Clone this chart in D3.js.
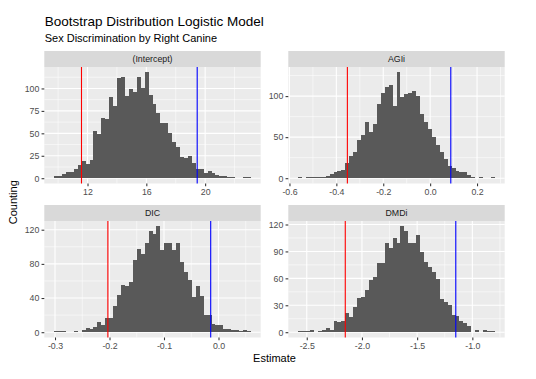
<!DOCTYPE html>
<html>
<head>
<meta charset="utf-8">
<script src="https://cdn.jsdelivr.net/npm/d3@7"></script>
<style>
    body { margin: 0; background: #fff; }
    svg { display: block; font-family: "Liberation Sans", Arial, Helvetica, sans-serif; }
</style>
</head>
<body>
<div id="chart"></div>
<script>
// facet labels, in drawing order
const panelNames = ["(Intercept)", "AGIi", "DIC", "DMDi"];

// bootstrap counts, 50 bins for every coefficient
const interceptCounts = [2, 2, 5, 7, 7, 10, 15, 19, 16, 20, 53, 49, 67, 66, 90, 80, 112, 113, 92, 99,
    96, 113, 100, 118, 93, 83, 73, 62, 62, 50, 40, 35, 24, 22, 25, 17, 10, 10, 6, 8,
    6, 4, 3, 3, 1, 1, 0, 0, 1, 1];
const agiiCounts = [1, 0, 1, 1, 1, 1, 2, 3, 5, 8, 9, 10, 18, 27, 32, 47, 53, 68, 56, 66,
    90, 104, 111, 113, 88, 129, 99, 102, 104, 106, 100, 78, 68, 60, 50, 41, 32, 23, 15, 12,
    9, 8, 7, 4, 1, 0, 1, 0, 0, 2];
const dicCounts = [1, 1, 1, 0, 0, 1, 0, 2, 5, 4, 6, 12, 8, 17, 17, 31, 44, 55, 54, 59,
    85, 98, 91, 104, 119, 115, 124, 96, 104, 105, 96, 105, 82, 71, 61, 41, 54, 42, 20, 20,
    10, 9, 8, 4, 4, 2, 2, 1, 2, 1];
const dmdiCounts = [1, 1, 1, 2, 0, 1, 2, 5, 2, 13, 11, 13, 21, 17, 28, 38, 39, 47, 58, 61,
    77, 77, 99, 94, 105, 99, 118, 113, 99, 99, 108, 89, 78, 73, 67, 59, 37, 34, 30, 19,
    18, 13, 10, 7, 0, 3, 0, 3, 1, 1];

// left edge of the first bin, right edge of the last bin
const interceptRange = [9.73, 23.11];
const agiiRange = [-0.563, 0.276];
const dicRange = [-0.3016, 0.0594];
const dmdiRange = [-2.578, -0.796];

// percentile cut offs (red = lower, blue = upper)
const lowerCut = [11.59, -0.353, -0.203, -2.151];
const upperCut = [19.46, 0.088, -0.0143, -1.150];

// axis breaks
const interceptXTicks = [12, 16, 20];
const agiiXTicks = [-0.6, -0.4, -0.2, 0.0, 0.2];
const dicXTicks = [-0.3, -0.2, -0.1, 0.0];
const dmdiXTicks = [-2.5, -2.0, -1.5, -1.0];
const interceptYTicks = [0, 25, 50, 75, 100];
const agiiYTicks = [0, 50, 100];
const dicYTicks = [0, 40, 80, 120];
const dmdiYTicks = [0, 30, 60, 90, 120];

const panels = [
    { name: panelNames[0], counts: interceptCounts, range: interceptRange, xTicks: interceptXTicks, yTicks: interceptYTicks, fmt: d => d3.format("d")(d) },
    { name: panelNames[1], counts: agiiCounts, range: agiiRange, xTicks: agiiXTicks, yTicks: agiiYTicks, fmt: d => d.toFixed(1) },
    { name: panelNames[2], counts: dicCounts, range: dicRange, xTicks: dicXTicks, yTicks: dicYTicks, fmt: d => d.toFixed(1) },
    { name: panelNames[3], counts: dmdiCounts, range: dmdiRange, xTicks: dmdiXTicks, yTicks: dmdiYTicks, fmt: d => d.toFixed(1) }
];

const width = 536, height = 379;
const colX = [[44.3, 260.7], [288.3, 504.7]];
const rowY = [[67, 183.5], [221, 337.5]];
const stripH = 16;

const svg = d3.select("#chart").append("svg")
    .attr("width", width)
    .attr("height", height);

svg.append("rect").attr("width", width).attr("height", height).attr("fill", "#fff");

// midpoints between major breaks, like ggplot's minor grid
function minorBreaks(major, domain) {
    const step = major[1] - major[0];
    const out = [];
    for (let k = -1; k <= major.length + 1; k++) {
        const v = major[0] + step * (k + 0.5);
        if (v >= domain[0] && v <= domain[1]) out.push(v);
    }
    return out;
}

panels.forEach((p, i) => {
    const [left, right] = colX[i % 2];
    const [top, bottom] = rowY[Math.floor(i / 2)];

    const pad = (p.range[1] - p.range[0]) * 0.05;
    const x = d3.scaleLinear().domain([p.range[0] - pad, p.range[1] + pad]).range([left, right]);
    const maxCount = d3.max(p.counts);
    const y = d3.scaleLinear().domain([-0.05 * maxCount, maxCount * 1.05]).range([bottom, top]);

    const g = svg.append("g");

    g.append("rect")
        .attr("x", left).attr("y", top)
        .attr("width", right - left).attr("height", bottom - top)
        .attr("fill", "#EBEBEB");

    // grid
    g.append("g").selectAll("line")
        .data(minorBreaks(p.xTicks, x.domain()))
        .enter().append("line")
        .attr("x1", d => x(d)).attr("x2", d => x(d))
        .attr("y1", top).attr("y2", bottom)
        .attr("stroke", "#fff").attr("stroke-width", 0.55);
    g.append("g").selectAll("line")
        .data(minorBreaks(p.yTicks, y.domain()))
        .enter().append("line")
        .attr("y1", d => y(d)).attr("y2", d => y(d))
        .attr("x1", left).attr("x2", right)
        .attr("stroke", "#fff").attr("stroke-width", 0.55);
    g.append("g").selectAll("line")
        .data(p.xTicks)
        .enter().append("line")
        .attr("x1", d => x(d)).attr("x2", d => x(d))
        .attr("y1", top).attr("y2", bottom)
        .attr("stroke", "#fff").attr("stroke-width", 1.1);
    g.append("g").selectAll("line")
        .data(p.yTicks)
        .enter().append("line")
        .attr("y1", d => y(d)).attr("y2", d => y(d))
        .attr("x1", left).attr("x2", right)
        .attr("stroke", "#fff").attr("stroke-width", 1.1);

    // histogram bars
    const binW = (p.range[1] - p.range[0]) / p.counts.length;
    const bins = p.counts.map((c, k) => ({ x0: p.range[0] + k * binW, x1: p.range[0] + (k + 1) * binW, count: c }));
    g.append("g").selectAll("rect")
        .data(bins.filter(b => b.count > 0))
        .enter().append("rect")
        .attr("x", d => x(d.x0))
        .attr("width", d => x(d.x1) - x(d.x0))
        .attr("y", d => y(d.count))
        .attr("height", d => y(0) - y(d.count))
        .attr("fill", "#595959")
        .attr("shape-rendering", "crispEdges");

    // cut off lines
    g.append("line")
        .attr("x1", x(lowerCut[i])).attr("x2", x(lowerCut[i]))
        .attr("y1", top).attr("y2", bottom)
        .attr("stroke", "red").attr("stroke-width", 1.1);
    g.append("line")
        .attr("x1", x(upperCut[i])).attr("x2", x(upperCut[i]))
        .attr("y1", top).attr("y2", bottom)
        .attr("stroke", "blue").attr("stroke-width", 1.1);

    // strip
    g.append("rect")
        .attr("x", left).attr("y", top - stripH)
        .attr("width", right - left).attr("height", stripH)
        .attr("fill", "#D9D9D9");
    g.append("text")
        .attr("x", (left + right) / 2).attr("y", top - stripH / 2)
        .attr("dy", "0.35em")
        .attr("text-anchor", "middle")
        .attr("font-size", "8.8px")
        .attr("fill", "#1A1A1A")
        .text(p.name);

    // axes
    const xAxis = g.append("g")
        .attr("transform", `translate(0,${bottom})`)
        .call(d3.axisBottom(x).tickValues(p.xTicks).tickSize(2.75).tickPadding(2.2).tickFormat(p.fmt));
    const yAxis = g.append("g")
        .attr("transform", `translate(${left},0)`)
        .call(d3.axisLeft(y).tickValues(p.yTicks).tickSize(2.75).tickPadding(2.2).tickFormat(d => d));
    [xAxis, yAxis].forEach(a => {
        a.select(".domain").remove();
        a.attr("font-family", null).attr("font-size", null);
        a.selectAll(".tick line").attr("stroke", "#333333").attr("stroke-width", 1.07);
        a.selectAll(".tick text").attr("fill", "#4D4D4D").attr("font-size", "8.8px");
    });
});

// titles
svg.append("text")
    .attr("x", 44.7).attr("y", 26.2)
    .attr("font-size", "13.5px")
    .attr("fill", "#000")
    .text("Bootstrap Distribution Logistic Model");
svg.append("text")
    .attr("x", 44.7).attr("y", 41.6)
    .attr("font-size", "11px")
    .attr("fill", "#000")
    .text("Sex Discrimination by Right Canine");

svg.append("text")
    .attr("x", (colX[0][0] + colX[1][1]) / 2).attr("y", 362)
    .attr("text-anchor", "middle")
    .attr("font-size", "11px")
    .text("Estimate");
svg.append("text")
    .attr("transform", `translate(16.5,${(rowY[0][0] + rowY[1][1]) / 2}) rotate(-90)`)
    .attr("text-anchor", "middle")
    .attr("font-size", "11px")
    .text("Counting");
</script>
</body>
</html>
